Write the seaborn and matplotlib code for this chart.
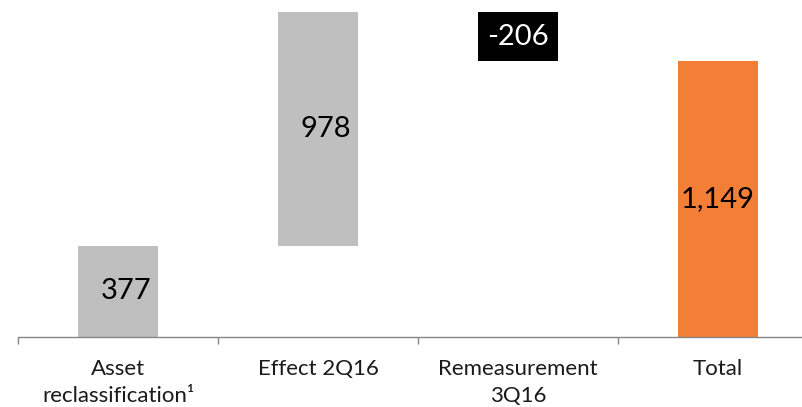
import matplotlib
matplotlib.use("Agg")
import matplotlib.pyplot as plt
import numpy as np
import seaborn as sns

categories = ["Asset\nreclassification\u00b9", "Effect 2Q16", "Remeasurement\n3Q16", "Total"]
values = [377, 978, -206, 1149]
is_total = [False, False, False, True]
bar_colors = ["#BFBFBF", "#BFBFBF", "#000000", "#F27F35"]
label_colors = ["#000000", "#000000", "#FFFFFF", "#000000"]

sns.set_style("white")
plt.rcParams["font.family"] = ["Lato", "DejaVu Sans"]

# waterfall: floating bars start where the running total left off
vals = np.array(values, dtype=float)
running = np.cumsum(np.where(is_total, 0, vals))
bottoms = []
for i, v in enumerate(vals):
    if is_total[i]:
        bottoms.append(0.0)
    else:
        start = running[i] - v
        bottoms.append(min(start, start + v))
heights = np.abs(vals)

fig = plt.figure(figsize=(8.02, 4.07), dpi=100)
ax = fig.add_axes([18 / 802, 70.5 / 407, 800 / 802, 336.5 / 407])

sns.barplot(x=categories, y=heights, bottom=bottoms, width=0.4, ax=ax,
            color="#BFBFBF", edgecolor="none", linewidth=0)
for patch, c in zip(ax.patches, bar_colors):
    patch.set_facecolor(c)

for i, (b, h, v) in enumerate(zip(bottoms, heights, values)):
    dx = 0.04 if i < 2 else 0
    ax.text(i + dx, b + h / 2, f"{v:,}", ha="center", va="center",
            fontsize=21, color=label_colors[i])

ax.set_xlim(-0.5, 3.5)
ax.set_ylim(0, 1405)
ax.set_yticks([])
ax.set_ylabel("")
for s in ["top", "right", "left"]:
    ax.spines[s].set_visible(False)
ax.spines["bottom"].set_color("#868686")
ax.spines["bottom"].set_linewidth(1.0)

ax.set_xticks(range(len(categories)))
ax.set_xticklabels(categories, fontsize=16, color="#1A1A1A", linespacing=1.45)
ax.tick_params(axis="x", which="major", length=0, pad=16)
ax.set_xticks(np.arange(-0.5, len(categories), 1.0), minor=True)
ax.tick_params(axis="x", which="minor", bottom=True, length=5, width=1.0,
               color="#868686")

fig.savefig("out.png", dpi=100)
